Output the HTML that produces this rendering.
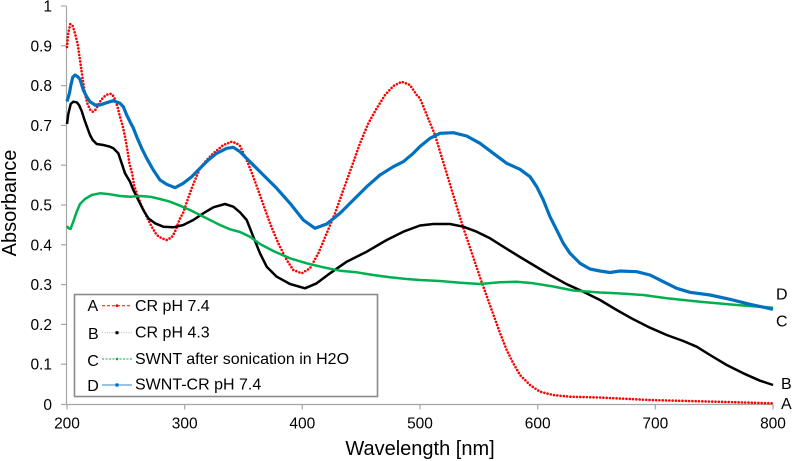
<!DOCTYPE html>
<html><head><meta charset="utf-8"><style>
html,body{margin:0;padding:0;background:#fff;}
svg{display:block;font-family:"Liberation Sans",Arial,sans-serif;}
</style></head><body>
<svg width="792" height="461" viewBox="0 0 792 461" xmlns="http://www.w3.org/2000/svg">
<rect width="792" height="461" fill="#fff"/>
<g stroke="#a6a6a6" stroke-width="1.2" fill="none">
<line x1="66.5" y1="6" x2="66.5" y2="404.5"/>
<line x1="66.5" y1="404.5" x2="773" y2="404.5"/>
<line x1="61" y1="6" x2="66.5" y2="6"/><line x1="61" y1="45.8" x2="66.5" y2="45.8"/><line x1="61" y1="85.6" x2="66.5" y2="85.6"/><line x1="61" y1="125.4" x2="66.5" y2="125.4"/><line x1="61" y1="165.2" x2="66.5" y2="165.2"/><line x1="61" y1="205" x2="66.5" y2="205"/><line x1="61" y1="244.8" x2="66.5" y2="244.8"/><line x1="61" y1="284.6" x2="66.5" y2="284.6"/><line x1="61" y1="324.4" x2="66.5" y2="324.4"/><line x1="61" y1="364.2" x2="66.5" y2="364.2"/><line x1="61" y1="404.5" x2="66.5" y2="404.5"/>
<line x1="67" y1="404.5" x2="67" y2="409.5"/><line x1="184.7" y1="404.5" x2="184.7" y2="409.5"/><line x1="302.3" y1="404.5" x2="302.3" y2="409.5"/><line x1="420" y1="404.5" x2="420" y2="409.5"/><line x1="537.7" y1="404.5" x2="537.7" y2="409.5"/><line x1="655.3" y1="404.5" x2="655.3" y2="409.5"/><line x1="773" y1="404.5" x2="773" y2="409.5"/>
</g>
<g font-size="15.5" fill="#000" text-anchor="end">
<text x="52" y="11.7">1</text><text x="52" y="51.3">0.9</text><text x="52" y="91.1">0.8</text><text x="52" y="130.9">0.7</text><text x="52" y="170.7">0.6</text><text x="52" y="210.5">0.5</text><text x="52" y="250.3">0.4</text><text x="52" y="290.1">0.3</text><text x="52" y="329.9">0.2</text><text x="52" y="369.7">0.1</text><text x="52" y="409.8">0</text>
</g>
<g font-size="15.5" fill="#000" text-anchor="middle">
<text x="67" y="428.5">200</text><text x="184.7" y="428.5">300</text><text x="302.3" y="428.5">400</text><text x="420" y="428.5">500</text><text x="537.7" y="428.5">600</text><text x="655.3" y="428.5">700</text><text x="773" y="428.5">800</text>
</g>
<text x="420" y="455" font-size="20" text-anchor="middle">Wavelength [nm]</text>
<text transform="translate(16,203) rotate(-90)" font-size="20" text-anchor="middle">Absorbance</text>

<!-- A red dotted -->
<path fill="none" stroke="#ff0000" stroke-width="2.6" stroke-linecap="round" stroke-dasharray="0 3.3" d="M67 47 L68.3 32.7 L70.3 24 L72.7 26 L75 33.3 L77.7 44.3 L80 60 L82.3 76.3 L85 94 L87.5 104 L90 109.5 L92.7 111.7 L95 110.5 L98 105.5 L101 100 L104.3 96.5 L107.7 94.3 L111 93.7 L114 96.7 L117.3 106 L120 116.7 L122.7 126 L125 136.7 L127.3 149.3 L129.3 162.7 L132.3 174 L134 185 L137.3 195 L141.7 206 L146.7 216.7 L151.7 226.7 L156.7 235 L161.7 238.3 L166.7 240 L171.7 237.3 L175 231.7 L179.3 220 L183.3 212.3 L187.7 199.3 L191.7 188.3 L195 180 L200 168.3 L206.7 160 L213.3 153.3 L223.3 145 L231.7 141.7 L236.7 143.3 L240 146 L246.7 160 L253.3 176.7 L261.7 200 L270 223.3 L278.3 243.3 L286.7 260 L293.3 270 L301.7 273.3 L310 268.3 L318.3 253.3 L326.7 233.3 L335 213.3 L343.3 190 L351.7 166.7 L360 143.3 L368.3 123.3 L376.7 108.3 L385 95 L393.3 86 L401.7 81.7 L410 85 L416.7 95 L420 98.3 L428 118 L435 135 L449 181 L463 227 L482 283 L500 333 L506.7 350 L513.3 363.3 L520 375 L530 385 L540 391.7 L553.3 395 L570 396.7 L600 397.5 L650 400 L716.7 401.7 L773 403.3"/>

<!-- B black -->
<path fill="none" stroke="#000" stroke-width="2.5" stroke-linejoin="round" d="M67 124 L68.3 114 L70.7 104 L73.3 101.7 L76.7 102.3 L79 105 L81.7 111 L84.3 119.3 L87.3 127.7 L90 135 L92.7 140 L96.7 144 L103.3 145 L110 146.7 L113.3 148.3 L118.3 153.3 L121.7 163.3 L125 173.3 L130 181.7 L133.3 190 L138.3 200 L143.3 210 L148.3 218.3 L155 223.3 L163.3 226.7 L173.3 227.3 L183.3 225 L193.3 220 L203.3 213.3 L213.3 207.3 L225 204 L233.3 206.7 L240 212.3 L246.7 220 L253.3 236.7 L260 253.3 L266.7 266.7 L276.7 276.7 L290 284 L305 288.3 L316.7 283.3 L330 273.3 L346.7 261.7 L366.7 251.7 L386.7 240 L403.3 231.7 L420 225.5 L433.3 224 L450 224 L463.3 226.7 L476.7 231.7 L490 238.3 L503.3 246.7 L516.7 255 L533.3 265 L550 275 L566.7 284.2 L583.3 291.7 L600 300 L616.7 310 L633.3 319.3 L650 327.7 L666.7 335 L683.3 341 L696.7 346.7 L710 355 L726.7 365 L743.3 373.3 L760 380.7 L773 385"/>

<!-- C green -->
<path fill="none" stroke="#00b050" stroke-width="2.5" stroke-linejoin="round" d="M67 226 L68.3 228 L70.5 229 L73.3 221.7 L76.7 211.7 L80 204 L85 199 L91.7 195 L100 193.3 L110 194.3 L120 196 L130 196.7 L140 196 L150 196.7 L160 199 L170 201.7 L180 205.7 L190 210 L200 215 L210 220 L220 225 L230 229.3 L240 232 L250 236.7 L260 244 L273.3 251 L290 258.3 L306.7 263.3 L323.3 267.3 L340 270.7 L356.7 272.3 L373.3 275 L390 277.3 L406.7 279 L420 280 L440 281 L460 282.7 L480 284 L500 282.3 L516.7 281.7 L533.3 283.3 L553.3 286.5 L573.3 290.5 L600 292.5 L616.7 293.3 L643.3 295 L666.7 298.3 L700 301.7 L736.7 305 L773 307.7"/>

<!-- D blue -->
<path fill="none" stroke="#0070c0" stroke-width="3.2" stroke-linejoin="round" d="M67 101.5 L69.5 93 L70.7 86 L72.7 77.3 L75 75 L77.7 76.7 L80 79.3 L83.3 90 L86.7 96.7 L90 101.7 L95 105 L100 105 L106.7 102.7 L113.3 100.7 L120 103.3 L123.3 106.7 L126.7 115 L130 121.7 L133.3 128 L136.7 136.7 L141.7 148.3 L146.7 158.3 L153.3 170 L160 180 L166.7 184.3 L175 187.7 L183.3 183.3 L191.7 176.7 L200 168.3 L208.3 160 L216.7 153.3 L226.7 148.3 L233.3 147.3 L240 151.7 L250 161.7 L263.3 175 L276.7 188.3 L290 203.3 L303.3 220 L315 228.3 L326.7 224 L340 213.3 L353.3 200 L366.7 186.7 L380 175 L393.3 166.7 L403.3 161.7 L413.3 153.3 L420 146.5 L430 138.3 L440 133.3 L453.3 132.7 L466.7 136 L480 143.3 L493.3 153.3 L506.7 163.3 L520 169.3 L530 176.7 L536.7 186.7 L543.3 200 L550 216.7 L556.7 230 L563.3 243.3 L570 253.3 L580 263.3 L590 269 L600 271 L610 272.5 L620 271 L636.7 271.7 L650 275 L663.3 281.7 L676.7 288.3 L690 292.3 L710 295 L730 299.3 L750 304.3 L773 309.3"/>

<g font-size="16" fill="#000">
<text x="776" y="299.3">D</text><text x="776" y="326.7">C</text><text x="781" y="389">B</text><text x="781" y="409">A</text>
</g>
<rect x="74.5" y="294.5" width="303" height="102" fill="#fff" stroke="#8a8a8a" stroke-width="1.6"/>
<g font-size="16" fill="#000">
<text x="92.8" y="311" text-anchor="middle">A</text>
<text x="93.3" y="339" text-anchor="middle">B</text>
<text x="93" y="366" text-anchor="middle">C</text>
<text x="93" y="391" text-anchor="middle">D</text>
<text x="135" y="311">CR pH 7.4</text>
<text x="135" y="337.5">CR pH 4.3</text>
<text x="135" y="364">SWNT after sonication in H2O</text>
<text x="135" y="389.5">SWNT-CR pH 7.4</text>
</g>
<line x1="102" y1="305.7" x2="132" y2="305.7" stroke="#ff0000" stroke-width="1" stroke-dasharray="3,2"/>
<circle cx="117" cy="305.7" r="1.4" fill="#ff0000"/>
<line x1="102" y1="332.7" x2="132" y2="332.7" stroke="#bdbdbd" stroke-width="1" stroke-dasharray="1.2,1.2"/>
<rect x="115.5" y="331.2" width="3" height="3" fill="#000"/>
<line x1="102" y1="359" x2="132" y2="359" stroke="#00b050" stroke-width="1" stroke-dasharray="2,1.5"/>
<circle cx="117" cy="359" r="1.3" fill="#00b050"/>
<line x1="102" y1="385" x2="132" y2="385" stroke="#9cc3e6" stroke-width="2"/>
<rect x="115.4" y="383.4" width="3.2" height="3.2" fill="#0070c0"/>
</svg>
</body></html>
